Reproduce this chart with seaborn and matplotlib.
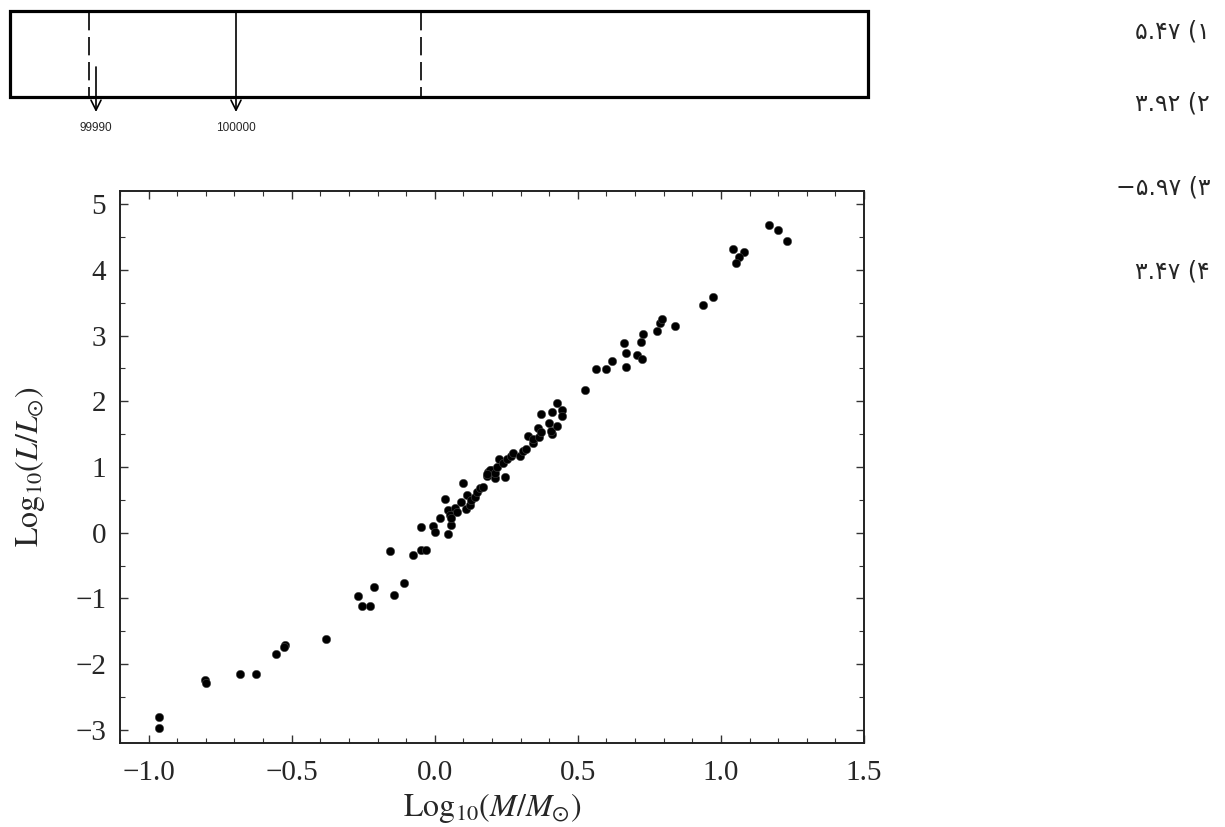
import seaborn as sns
import matplotlib.pyplot as plt
from matplotlib.patches import Rectangle
from matplotlib.ticker import MultipleLocator

# Mass-luminosity data
log_mass = [-0.964, -0.964, -0.802, -0.801, -0.679, -0.624, -0.556, -0.524, -0.527, -0.379,
            -0.268, -0.253, -0.227, -0.214, -0.143, -0.106, -0.155, -0.076, -0.047, -0.031,
            -0.047, -0.006, 0.0, 0.017, 0.047, 0.058, 0.036,
            0.047, 0.052, 0.056, 0.070, 0.079, 0.091, 0.099, 0.111, 0.108, 0.122, 0.128,
            0.140, 0.146, 0.157, 0.169, 0.181, 0.186, 0.198, 0.210, 0.192, 0.181, 0.210,
            0.245, 0.216, 0.225, 0.239, 0.251, 0.265, 0.274, 0.297, 0.307, 0.320, 0.344,
            0.326, 0.344, 0.365, 0.408, 0.362, 0.370, 0.405, 0.399, 0.428, 0.370, 0.410,
            0.446, 0.444, 0.428, 0.524,
            0.565, 0.598, 0.620, 0.670, 0.668, 0.662, 0.705, 0.723, 0.719, 0.726, 0.778,
            0.787, 0.795, 0.840, 0.936, 0.971, 1.041, 1.080, 1.064, 1.052, 1.169, 1.200, 1.231]
log_lum = [-2.81, -2.97, -2.24, -2.29, -2.15, -2.15, -1.85, -1.71, -1.74, -1.61,
           -0.97, -1.12, -1.12, -0.83, -0.95, -0.76, -0.28, -0.34, -0.26, -0.27,
           0.08, 0.10, 0.01, 0.23, -0.02, 0.12, 0.52,
           0.34, 0.27, 0.23, 0.37, 0.31, 0.47, 0.75, 0.57, 0.36, 0.42, 0.50,
           0.55, 0.62, 0.68, 0.70, 0.86, 0.93, 0.95, 0.83, 0.95, 0.90, 0.91,
           0.85, 1.00, 1.12, 1.06, 1.12, 1.16, 1.22, 1.16, 1.25, 1.28, 1.36,
           1.47, 1.42, 1.46, 1.50, 1.59, 1.54, 1.55, 1.67, 1.63, 1.80, 1.83,
           1.87, 1.78, 1.98, 2.17,
           2.49, 2.49, 2.62, 2.52, 2.74, 2.89, 2.70, 2.65, 2.90, 3.02, 3.07,
           3.19, 3.25, 3.15, 3.47, 3.58, 4.32, 4.27, 4.19, 4.11, 4.68, 4.60, 4.44]

arrow_labels = ['99990', '100000']
options = ['۵.۴۷ (۱', '۳.۹۲ (۲', '−۵.۹۷ (۳', '۳.۴۷ (۴']

sns.set_theme(style='ticks')
plt.rcParams['font.family'] = ['Liberation Serif', 'DejaVu Serif']
plt.rcParams['mathtext.fontset'] = 'stix'

fig = plt.figure(figsize=(12.25, 8.27), dpi=100)
fig.patch.set_facecolor('white')

# main scatter
ax = fig.add_axes([120 / 1225, 84 / 827, 744 / 1225, 552 / 827])
sns.scatterplot(x=log_mass, y=log_lum, ax=ax, color='black', s=36,
                edgecolor='#444444', linewidth=0.4)
ax.set_xlim(-1.1, 1.5)
ax.set_ylim(-3.2, 5.2)
ax.xaxis.set_major_locator(MultipleLocator(0.5))
ax.xaxis.set_minor_locator(MultipleLocator(0.1))
ax.yaxis.set_major_locator(MultipleLocator(1))
ax.yaxis.set_minor_locator(MultipleLocator(0.5))
ax.tick_params(which='both', direction='in', top=True, right=True, color='#333333')
ax.tick_params(which='major', length=6, width=1.0, labelsize=21)
ax.tick_params(which='minor', length=3.5, width=0.8)
ax.tick_params(axis='x', which='major', pad=12)
ax.tick_params(axis='y', which='major', pad=10)
for s in ax.spines.values():
    s.set_linewidth(1.4)
    s.set_color('#222222')
ax.set_xlabel(r'$\mathrm{Log}_{10}(M/M_{\odot})$', fontsize=23, labelpad=4)
ax.set_ylabel(r'$\mathrm{Log}_{10}(L/L_{\odot})$', fontsize=23, labelpad=20)

# overlay in pixel units for the box diagram and options
ov = fig.add_axes([0, 0, 1, 1])
ov.set_xlim(0, 1225)
ov.set_ylim(827, 0)
ov.axis('off')
ov.patch.set_alpha(0)

ov.add_patch(Rectangle((10, 11), 858, 86, fill=False, lw=2.3, ec='black'))
for xd in (89, 421):
    ov.plot([xd, xd], [12, 96], color='black', lw=1.2, dashes=(11, 4))
ov.annotate('', xy=(96, 112), xytext=(96, 67),
            arrowprops=dict(arrowstyle='->', lw=1.2, color='black',
                            mutation_scale=18, shrinkA=0, shrinkB=0))
ov.annotate('', xy=(236, 112), xytext=(236, 11),
            arrowprops=dict(arrowstyle='->', lw=1.2, color='black',
                            mutation_scale=18, shrinkA=0, shrinkB=0))
for xp, lab in zip((96, 236), arrow_labels):
    ov.text(xp, 128, lab, ha='center', va='center', fontsize=8.5,
            family=['Liberation Sans', 'DejaVu Sans'])

for yp, opt in zip((31, 104, 188, 271), options):
    ov.text(1210, yp, opt, ha='right', va='center', fontsize=17,
            family=['DejaVu Sans'])

fig.savefig('out.png', dpi=100, facecolor='white')
